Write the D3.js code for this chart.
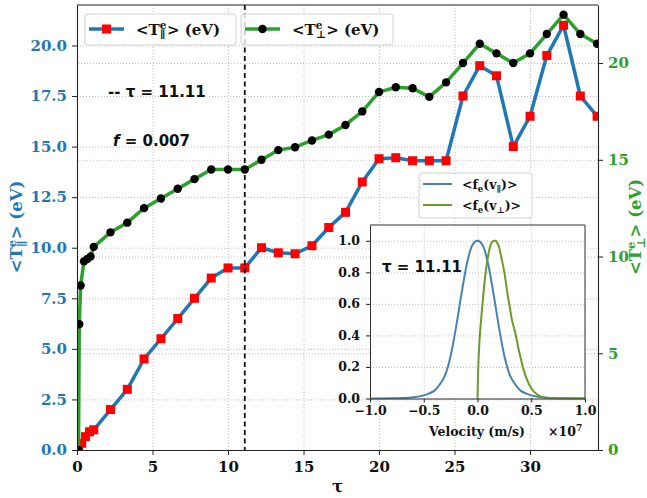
<!DOCTYPE html>
<html>
<head>
<meta charset="utf-8">
<script src="https://cdn.jsdelivr.net/npm/d3@7"></script>
<style>
  body { margin: 0; background: #fff; }
  svg { display: block; }
</style>
</head>
<body>
<svg id="chart" width="647" height="498"></svg>
<script>
// Mean parallel electron temperature (eV) against normalised time τ
const tauPar = [0.1, 0.31, 0.56, 0.83, 1.11, 2.22, 3.33, 4.44, 5.56, 6.67, 7.78, 8.89, 10.0, 11.11,
  12.22, 13.33, 14.44, 15.56, 16.67, 17.78, 18.89, 20.0, 21.11, 22.22, 23.33, 24.44, 25.56, 26.67,
  27.78, 28.89, 30.0, 31.11, 32.22, 33.33, 34.44];
const tPar = [0, 0.33, 0.66, 0.9, 1.0, 2.0, 3.0, 4.5, 5.5, 6.5, 7.5, 8.5, 9.0, 9.0,
  10.0, 9.75, 9.7, 10.1, 11.0, 11.75, 13.25, 14.4, 14.45, 14.3, 14.3, 14.3, 17.5, 19.0,
  18.5, 15.0, 16.5, 19.5, 21.0, 17.5, 16.5];

// Mean perpendicular electron temperature (eV)
const tauPerp = [0.1, 0.15, 0.24, 0.46, 0.68, 0.9, 1.11, 2.22, 3.33, 4.44, 5.56, 6.67, 7.78, 8.89,
  10.0, 11.11, 12.22, 13.33, 14.44, 15.56, 16.67, 17.78, 18.89, 20.0, 21.11, 22.22, 23.33, 24.44,
  25.56, 26.67, 27.78, 28.89, 30.0, 31.11, 32.22, 33.33, 34.44];
const tPerp = [0, 6.5, 8.5, 9.75, 9.87, 10.0, 10.5, 11.25, 11.75, 12.5, 13.0, 13.5, 14.0, 14.5,
  14.5, 14.5, 15.0, 15.5, 15.65, 16.0, 16.3, 16.8, 17.5, 18.5, 18.75, 18.7, 18.25, 19.0,
  20.0, 21.0, 20.5, 20.0, 20.5, 21.5, 22.5, 21.5, 21.0];

const xTicks = [0, 5, 10, 15, 20, 25, 30];
const leftTicks = [0, 2.5, 5, 7.5, 10, 12.5, 15, 17.5, 20];
const rightTicks = [0, 5, 10, 15, 20];
const tauMark = 11.11;
const fraction = 0.007;

// Velocity distributions at τ = 11.11 (velocity in units of 1e7 m/s)
const vPar = [-1.0, -0.8, -0.7, -0.6, -0.5, -0.45, -0.4, -0.35, -0.3, -0.25, -0.2, -0.15, -0.1, -0.05, 0,
  0.05, 0.1, 0.15, 0.2, 0.25, 0.3, 0.35, 0.4, 0.45, 0.5, 0.6, 0.7, 0.8, 1.0];
const fPar = [0, 0.001, 0.003, 0.008, 0.02, 0.032, 0.05, 0.09, 0.15, 0.27, 0.45, 0.66, 0.85, 0.97, 1.0,
  0.97, 0.85, 0.66, 0.45, 0.27, 0.15, 0.09, 0.05, 0.032, 0.02, 0.008, 0.003, 0.001, 0];
const vPerp = [0, 0.005, 0.02, 0.04, 0.06, 0.08, 0.1, 0.12, 0.14, 0.16, 0.17, 0.18, 0.2, 0.22, 0.25,
  0.28, 0.3, 0.32, 0.35, 0.38, 0.4, 0.43, 0.46, 0.5, 0.55, 0.6, 0.7, 0.8, 1.0];
const fPerp = [0, 0.15, 0.38, 0.55, 0.70, 0.82, 0.91, 0.97, 0.995, 1.0, 1.0, 0.99, 0.96, 0.9, 0.8,
  0.66, 0.58, 0.5, 0.42, 0.32, 0.26, 0.18, 0.12, 0.065, 0.028, 0.01, 0.002, 0.0005, 0];
const insetXTicks = [-1, -0.5, 0, 0.5, 1];
const insetYTicks = [0, 0.2, 0.4, 0.6, 0.8, 1.0];

const BLUE = "#1f77b4", GREEN = "#2ca02c", RED = "#ff0000";
const IBLUE = "#4682b4", IOLIVE = "#6b9b25";
const SERIF = "'DejaVu Serif', serif";
const SANS = "'DejaVu Sans', sans-serif";

const svg = d3.select("#chart");
const L = 77, R = 598, T = 5, B = 450;

const x = d3.scaleLinear().domain([0, 34.5]).range([L, R]);
const yL = d3.scaleLinear().domain([0, 22.0]).range([B, T]);
const yR = d3.scaleLinear().domain([0, 23.0]).range([B, T]);

// grid lines
function gridStyle(g) {
  g.select(".domain").remove();
  g.selectAll("line").attr("stroke", "#b0b0b0").attr("stroke-width", 0.8).attr("stroke-dasharray", "1,2");
}
svg.append("g").attr("transform", `translate(0,${B})`)
  .call(d3.axisBottom(x).tickValues(xTicks).tickSize(-(B - T)).tickFormat(""))
  .call(gridStyle);
svg.append("g").attr("transform", `translate(${L},0)`)
  .call(d3.axisLeft(yL).tickValues(leftTicks).tickSize(-(R - L)).tickFormat(""))
  .call(gridStyle);
svg.append("g").attr("transform", `translate(${R},0)`)
  .call(d3.axisRight(yR).tickValues(rightTicks).tickSize(-(R - L)).tickFormat(""))
  .call(gridStyle);

// plotting area clip
svg.append("clipPath").attr("id", "plotClip")
  .append("rect").attr("x", L).attr("y", T).attr("width", R - L).attr("height", B - T);
const plot = svg.append("g").attr("clip-path", "url(#plotClip)");

const parData = tauPar.map((t, i) => [t, tPar[i]]);
const perpData = tauPerp.map((t, i) => [t, tPerp[i]]);

plot.append("path").datum(parData)
  .attr("fill", "none").attr("stroke", BLUE).attr("stroke-width", 3.5).attr("stroke-linejoin", "round")
  .attr("d", d3.line().x(d => x(d[0])).y(d => yL(d[1])));
const sq = 9;
plot.selectAll("rect.par").data(parData).join("rect").attr("class", "par")
  .attr("x", d => x(d[0]) - sq / 2).attr("y", d => yL(d[1]) - sq / 2)
  .attr("width", sq).attr("height", sq).attr("fill", RED);

// vertical marker at τ = 11.11
svg.append("line").attr("x1", x(tauMark)).attr("x2", x(tauMark)).attr("y1", T).attr("y2", B)
  .attr("stroke", "#111").attr("stroke-width", 1.8).attr("stroke-dasharray", "5,3.5");

plot.append("path").datum(perpData)
  .attr("fill", "none").attr("stroke", GREEN).attr("stroke-width", 3.5).attr("stroke-linejoin", "round")
  .attr("d", d3.line().x(d => x(d[0])).y(d => yR(d[1])));
plot.selectAll("circle.perp").data(perpData).join("circle").attr("class", "perp")
  .attr("cx", d => x(d[0])).attr("cy", d => yR(d[1])).attr("r", 4.2).attr("fill", "#000");

// axes
function axisText(g, color, size) {
  g.selectAll("text").attr("font-family", SERIF).attr("font-weight", "bold")
    .attr("font-size", size).attr("fill", color);
  g.selectAll("line").attr("stroke", "#222");
  g.select(".domain").attr("stroke", "#222").attr("stroke-width", 1.1);
}
svg.append("g").attr("transform", `translate(0,${B})`)
  .call(d3.axisBottom(x).tickValues(xTicks).tickSize(5).tickPadding(6).tickFormat(d3.format("d")).tickSizeOuter(0))
  .call(g => axisText(g, "#111", 15));
svg.append("g").attr("transform", `translate(${L},0)`)
  .call(d3.axisLeft(yL).tickValues(leftTicks).tickSize(5).tickPadding(5).tickFormat(d3.format(".1f")).tickSizeOuter(0))
  .call(g => axisText(g, BLUE, 15));
svg.append("g").attr("transform", `translate(${R},0)`)
  .call(d3.axisRight(yR).tickValues(rightTicks).tickSize(5).tickPadding(5).tickFormat(d3.format("d")).tickSizeOuter(0))
  .call(g => axisText(g, GREEN, 15));
svg.append("line").attr("x1", L).attr("x2", R).attr("y1", T).attr("y2", T).attr("stroke", "#222").attr("stroke-width", 1.1);

// <T^e_sub> (eV) label with stacked super/subscript
function tempLabel(sel, sub, size) {
  const s = size * 0.7;
  sel.append("tspan").text("<T");
  sel.append("tspan").attr("font-size", s).attr("dy", -size * 0.36).text("e");
  sel.append("tspan").attr("font-size", s).attr("dx", -s * 0.6).attr("dy", size * 0.62).text(sub);
  sel.append("tspan").attr("dy", -size * 0.26).attr("dx", sub === "∥" ? s * 0.12 : 0).text("> (eV)");
}

svg.append("text").attr("transform", "translate(22,227) rotate(-90)")
  .attr("text-anchor", "middle").attr("font-family", SERIF).attr("font-weight", "bold")
  .attr("font-size", 16.5).attr("fill", BLUE).call(t => tempLabel(t, "∥", 16.5));
svg.append("text").attr("transform", "translate(641,227) rotate(-90)")
  .attr("text-anchor", "middle").attr("font-family", SERIF).attr("font-weight", "bold")
  .attr("font-size", 16.5).attr("fill", GREEN).call(t => tempLabel(t, "⊥", 16.5));
svg.append("text").attr("x", (L + R) / 2).attr("y", 492).attr("text-anchor", "middle")
  .attr("font-family", SERIF).attr("font-weight", "bold").attr("font-size", 16.5).attr("fill", "#111").text("τ");

// annotations
svg.append("text").attr("x", 108).attr("y", 97).attr("font-family", SANS).attr("font-weight", "bold")
  .attr("font-size", 15).attr("fill", "#111").text(`-- τ = ${tauMark.toFixed(2)}`);
const fl = svg.append("text").attr("x", 113).attr("y", 146).attr("font-family", SANS).attr("font-weight", "bold")
  .attr("font-size", 15).attr("fill", "#111");
fl.append("tspan").attr("font-style", "italic").text("f");
fl.append("tspan").text(` = ${fraction}`);

// main legend: two framed entries
function legendBox(x0, w, color, kind, sub) {
  const g = svg.append("g");
  g.append("rect").attr("x", x0).attr("y", 14).attr("width", w).attr("height", 31).attr("rx", 3)
    .attr("fill", "#fff").attr("fill-opacity", 0.8).attr("stroke", "#d0d0d0");
  g.append("line").attr("x1", x0 + 4).attr("x2", x0 + 39).attr("y1", 29).attr("y2", 29)
    .attr("stroke", color).attr("stroke-width", 3.5);
  if (kind === "square") {
    g.append("rect").attr("x", x0 + 21.5 - sq / 2).attr("y", 29 - sq / 2).attr("width", sq).attr("height", sq).attr("fill", RED);
  } else {
    g.append("circle").attr("cx", x0 + 21.5).attr("cy", 29).attr("r", 4.2).attr("fill", "#000");
  }
  g.append("text").attr("x", x0 + 51).attr("y", 34.5).attr("font-family", SERIF).attr("font-weight", "bold")
    .attr("font-size", 15).attr("fill", "#111").call(t => tempLabel(t, sub, 15));
}
legendBox(85, 151, BLUE, "square", "∥");
legendBox(241, 152, GREEN, "circle", "⊥");

// inset legend
const il = svg.append("g");
il.append("rect").attr("x", 419).attr("y", 173).attr("width", 113).attr("height", 45).attr("rx", 3)
  .attr("fill", "#fff").attr("fill-opacity", 0.8).attr("stroke", "#d0d0d0");
function fLabel(sel, sub) {
  sel.append("tspan").text("<f");
  sel.append("tspan").attr("font-size", 8.5).attr("dy", 3).text("e");
  sel.append("tspan").attr("dy", -3).text("(v");
  sel.append("tspan").attr("font-size", 8.5).attr("dy", 3).text(sub);
  sel.append("tspan").attr("dy", -3).text(")>");
}
[[IBLUE, "∥", 184], [IOLIVE, "⊥", 205]].forEach(([c, sub, yy]) => {
  il.append("line").attr("x1", 423).attr("x2", 452).attr("y1", yy).attr("y2", yy).attr("stroke", c).attr("stroke-width", 2);
  il.append("text").attr("x", 462).attr("y", yy + 4.5).attr("font-family", SERIF).attr("font-weight", "bold")
    .attr("font-size", 12.5).attr("fill", "#111").call(t => fLabel(t, sub));
});

// inset: velocity distributions
const iL = 370, iR = 585, iT = 225, iB = 398.5;
const xi = d3.scaleLinear().domain([-1, 1]).range([iL, iR]);
const yi = d3.scaleLinear().domain([0, 1.1]).range([iB, iT]);
const inset = svg.append("g");
inset.append("rect").attr("x", iL).attr("y", iT).attr("width", iR - iL).attr("height", iB - iT).attr("fill", "#fff");
inset.append("g").attr("transform", `translate(0,${iB})`)
  .call(d3.axisBottom(xi).tickValues(insetXTicks).tickSize(-(iB - iT)).tickFormat(""))
  .call(gridStyle);
inset.append("g").attr("transform", `translate(${iL},0)`)
  .call(d3.axisLeft(yi).tickValues(insetYTicks).tickSize(-(iR - iL)).tickFormat(""))
  .call(gridStyle);
inset.append("clipPath").attr("id", "insetClip")
  .append("rect").attr("x", iL).attr("y", iT).attr("width", iR - iL).attr("height", iB - iT + 1);
const ip = inset.append("g").attr("clip-path", "url(#insetClip)");
const iline = d3.line().x(d => xi(d[0])).y(d => yi(d[1])).curve(d3.curveMonotoneX);
ip.append("path").datum(vPar.map((v, i) => [v, fPar[i]]))
  .attr("fill", "none").attr("stroke", IBLUE).attr("stroke-width", 2).attr("d", iline);
ip.append("path").datum(vPerp.map((v, i) => [v, fPerp[i]]))
  .attr("fill", "none").attr("stroke", IOLIVE).attr("stroke-width", 2).attr("d", iline);

function insetAxis(g) {
  g.selectAll("text").attr("font-family", SERIF).attr("font-weight", "bold").attr("font-size", 12.5).attr("fill", "#111");
  g.selectAll("line").attr("stroke", "#222");
  g.select(".domain").attr("stroke", "#333");
}
inset.append("g").attr("transform", `translate(0,${iB})`)
  .call(d3.axisBottom(xi).tickValues(insetXTicks).tickSize(4).tickPadding(4).tickFormat(d3.format(".1f")).tickSizeOuter(0))
  .call(insetAxis);
inset.append("g").attr("transform", `translate(${iL},0)`)
  .call(d3.axisLeft(yi).tickValues(insetYTicks).tickSize(4).tickPadding(6).tickFormat(d3.format(".1f")).tickSizeOuter(0))
  .call(insetAxis);
inset.append("line").attr("x1", iL).attr("x2", iR).attr("y1", iT).attr("y2", iT).attr("stroke", "#333");
inset.append("line").attr("x1", iR).attr("x2", iR).attr("y1", iT).attr("y2", iB).attr("stroke", "#333");
inset.append("text").attr("x", 477).attr("y", 436).attr("text-anchor", "middle")
  .attr("font-family", SERIF).attr("font-weight", "bold").attr("font-size", 12.5).attr("fill", "#111")
  .text("Velocity (m/s)");
const off = inset.append("text").attr("x", 548).attr("y", 436)
  .attr("font-family", SERIF).attr("font-weight", "bold").attr("font-size", 12.5).attr("fill", "#111");
off.append("tspan").text("×10");
off.append("tspan").attr("font-size", 9).attr("dy", -5).text("7");
inset.append("text").attr("x", 382).attr("y", 272).attr("font-family", SANS).attr("font-weight", "bold")
  .attr("font-size", 15).attr("fill", "#111").text(`τ = ${tauMark.toFixed(2)}`);
</script>
</body>
</html>
